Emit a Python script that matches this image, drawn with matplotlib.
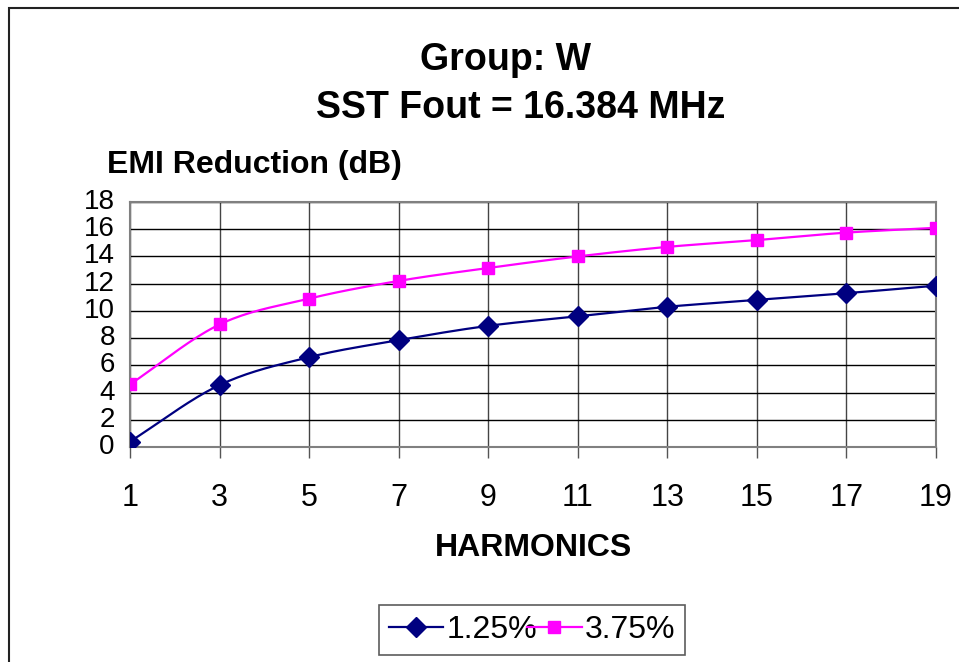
import numpy as np
import matplotlib.pyplot as plt
from matplotlib.patches import Rectangle

plt.rcParams['font.family'] = ['Liberation Sans', 'DejaVu Sans']

harmonics = [1, 3, 5, 7, 9, 11, 13, 15, 17, 19]
red_125 = [0.4, 4.55, 6.6, 7.85, 8.9, 9.6, 10.3, 10.8, 11.3, 11.85]
red_375 = [4.6, 9.0, 10.9, 12.2, 13.15, 14.0, 14.7, 15.2, 15.75, 16.1]
series_names = ['1.25%', '3.75%']


def smooth(x, y, n=20):
    # Catmull-Rom curve through the points, like the spreadsheet "smoothed line"
    x = np.asarray(x, float)
    y = np.asarray(y, float)
    px = np.concatenate([[2 * x[0] - x[1]], x, [2 * x[-1] - x[-2]]])
    py = np.concatenate([[2 * y[0] - y[1]], y, [2 * y[-1] - y[-2]]])
    t = np.linspace(0, 1, n, endpoint=False)
    xs, ys = [], []
    for i in range(1, len(px) - 2):
        for p, out in ((px, xs), (py, ys)):
            p0, p1, p2, p3 = p[i - 1], p[i], p[i + 1], p[i + 2]
            out.extend(0.5 * ((2 * p1) + (-p0 + p2) * t
                              + (2 * p0 - 5 * p1 + 4 * p2 - p3) * t ** 2
                              + (-p0 + 3 * p1 - 3 * p2 + p3) * t ** 3))
    xs.append(x[-1])
    ys.append(y[-1])
    return np.array(xs), np.array(ys)


fig = plt.figure(figsize=(9.59, 6.62), dpi=100)
ax = fig.add_axes([0.1356, 0.3248, 0.976 - 0.1356, 0.6949 - 0.3248])

styles = [('#000080', 'D', 10), ('#FF00FF', 's', 8.5)]
for vals, name, (col, mk, ms) in zip([red_125, red_375], series_names, styles):
    sx, sy = smooth(harmonics, vals)
    ax.plot(sx, sy, color=col, lw=1.6, zorder=3)
    ax.plot(harmonics, vals, ls='none', marker=mk, ms=ms, color=col, zorder=4)
    ax.plot([], [], color=col, lw=1.6, marker=mk, ms=ms, label=name)

ax.set_xlim(1, 19)
ax.set_ylim(0, 18)
ax.set_xticks(harmonics)
ax.set_yticks(range(0, 19, 2))
ax.tick_params(axis='x', length=8, width=1, color='#555555', pad=18, labelsize=22)
ax.tick_params(axis='y', length=0, pad=11, labelsize=20)
for lab in ax.get_yticklabels():
    lab.set_verticalalignment('center')

ax.grid(axis='x', color='#444444', lw=1)
ax.grid(axis='y', color='black', lw=1)
for s in ax.spines.values():
    s.set_color('#808080')
    s.set_linewidth(1.5)

ax.set_xlabel('HARMONICS', fontsize=23, fontweight='bold', labelpad=14)

fig.text(505 / 959, 1 - 60 / 662, 'Group: W', ha='center', va='center',
         fontsize=27, fontweight='bold')
fig.text(521 / 959, 1 - 108 / 662, 'SST Fout = 16.384 MHz', ha='center', va='center',
         fontsize=27, fontweight='bold')
fig.text(107 / 959, 1 - 165 / 662, 'EMI Reduction (dB)', ha='left', va='center',
         fontsize=23, fontweight='bold')

leg = fig.legend(loc='center', bbox_to_anchor=(532 / 959, 1 - 630 / 662), ncol=2,
                 fontsize=23, frameon=True, fancybox=False, edgecolor='#333333',
                 handlelength=1.7, handletextpad=0.1, columnspacing=-0.3,
                 borderpad=0.3)
leg.get_frame().set_linewidth(1.2)

fig.patches.append(Rectangle((9 / 959, -0.1), 1.2, 1.1 - 8 / 662,
                             transform=fig.transFigure, fill=False,
                             edgecolor='#222222', lw=1.5))

fig.savefig('out.png', dpi=100)
